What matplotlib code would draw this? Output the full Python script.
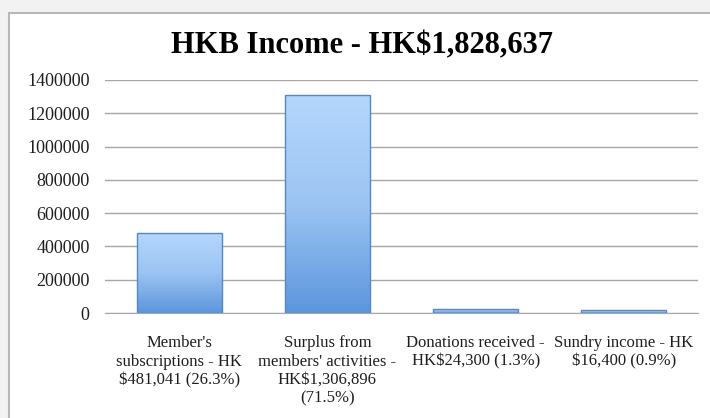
import numpy as np
import matplotlib.pyplot as plt
from matplotlib.colors import LinearSegmentedColormap
from matplotlib.patches import Rectangle

# chart data
title = "HKB Income - HK$1,828,637"
categories = [
    "Member's\nsubscriptions - HK\n$481,041 (26.3%)",
    "Surplus from\nmembers' activities -\nHK$1,306,896\n(71.5%)",
    "Donations received -\nHK$24,300 (1.3%)",
    "Sundry income - HK\n$16,400 (0.9%)",
]
values = [481041, 1306896, 24300, 16400]
yticks = [0, 200000, 400000, 600000, 800000, 1000000, 1200000, 1400000]

plt.rcParams['font.family'] = ['Liberation Serif', 'DejaVu Serif']

fig = plt.figure(figsize=(7.1, 4.18), dpi=100)
fig.patch.set_facecolor('#f2f2f2')

# white chart box with grey border
box = Rectangle((9 / 710, -0.01), 1.0, 1 - 13 / 418 + 0.01, transform=fig.transFigure,
                facecolor='white', edgecolor='#b8b8b8', linewidth=1.5, zorder=-5)
fig.patches.append(box)

ax = fig.add_axes([105 / 710, 1 - 313 / 418, 593 / 710, (313 - 80) / 418])
ax.set_facecolor('none')

x = np.arange(len(values))
bars = ax.bar(x, values, width=0.575, color='none', edgecolor='#5687c6', linewidth=1, zorder=3)

# vertical gradient fill for each bar
cmap = LinearSegmentedColormap.from_list('barblue', ['#5b96dc', '#9cc4f3', '#b4d7fc'])
grad = np.linspace(0, 1, 256).reshape(-1, 1)
for b in bars:
    x0, y0 = b.get_x(), b.get_y()
    im = ax.imshow(grad, extent=[x0, x0 + b.get_width(), y0, y0 + b.get_height()],
                   origin='lower', aspect='auto', cmap=cmap, zorder=2)
    im.set_clip_path(b)

ax.set_xlim(-0.5, 3.5)
ax.set_ylim(0, 1400000)
ax.set_yticks(yticks)
ax.set_yticklabels([str(v) for v in yticks])
ax.set_xticks(x)
ax.set_xticklabels(categories, linespacing=1.2)

ax.grid(axis='y', color='#a6a6a6', linewidth=1, zorder=1)
ax.set_axisbelow(True)
for s in ['left', 'right', 'top']:
    ax.spines[s].set_visible(False)
ax.spines['bottom'].set_color('#a6a6a6')
ax.tick_params(axis='both', length=0, colors='#1e1e1e')
ax.tick_params(axis='y', pad=11, labelsize=13)
ax.tick_params(axis='x', pad=16, labelsize=12)

fig.text(0.51, 1 - 46 / 418, title, ha='center', va='center',
         fontsize=22, fontweight='bold', color='black')

plt.savefig('out.png', dpi=100)
